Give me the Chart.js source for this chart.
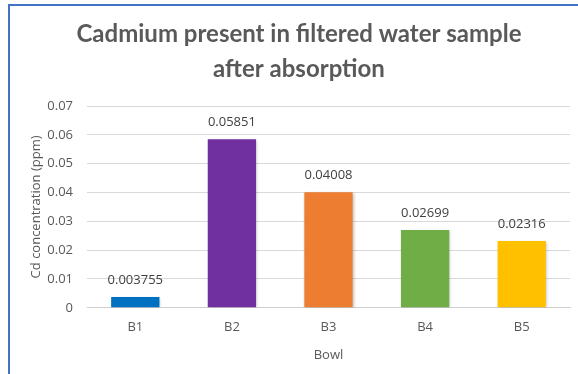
<!DOCTYPE html>
<html>
<head>
<meta charset="utf-8">
<script src="https://cdn.jsdelivr.net/npm/chart.js@4.4.1/dist/chart.umd.min.js"></script>
<style>
  html, body { margin: 0; padding: 0; background: #ffffff; }
  #wrap { position: relative; width: 578px; height: 374px; overflow: hidden; }
  #frame { position: absolute; left: 8px; top: 4px; right: -4px; bottom: -4px;
           border-top: 2px solid #4472C4; border-left: 2px solid #4472C4; pointer-events: none; }
  canvas { position: absolute; left: 0; top: 0; }
</style>
</head>
<body>
<div id="wrap">
  <canvas id="chart" width="578" height="374"></canvas>
  <div id="frame"></div>
</div>
<script>
// Cadmium concentration per bowl after absorption
const bowls = ['B1', 'B2', 'B3', 'B4', 'B5'];
const cadmium = [0.003755, 0.05851, 0.04008, 0.02699, 0.02316];
const barColors = ['#0070C0', '#7030A0', '#ED7D31', '#70AD47', '#FFC000'];
const titleLines = ['Cadmium present in filtered water sample', 'after absorption'];
const yTitle = 'Cd concentration (ppm)';
const xTitle = 'Bowl';

const textFont = '"Open Sans", sans-serif';

const valueLabels = {
  id: 'valueLabels',
  afterDatasetsDraw(chart) {
    const ctx = chart.ctx;
    const meta = chart.getDatasetMeta(0);
    ctx.save();
    ctx.font = '13px ' + textFont;
    ctx.fillStyle = '#404040';
    ctx.textAlign = 'center';
    ctx.textBaseline = 'middle';
    meta.data.forEach((bar, i) => {
      ctx.fillText(String(cadmium[i]), bar.x, bar.y - 17);
    });
    ctx.restore();
  }
};

const barShadow = {
  id: 'barShadow',
  beforeDatasetsDraw(chart) {
    const ctx = chart.ctx;
    ctx.save();
    ctx.shadowColor = 'rgba(0,0,0,0.25)';
    ctx.shadowBlur = 3;
    ctx.shadowOffsetX = 1;
    ctx.shadowOffsetY = 1;
  },
  afterDatasetsDraw(chart) {
    chart.ctx.restore();
  }
};

new Chart(document.getElementById('chart'), {
  type: 'bar',
  data: {
    labels: bowls,
    datasets: [{
      data: cadmium,
      backgroundColor: barColors,
      borderWidth: 0,
      barPercentage: 0.5,
      categoryPercentage: 1.0
    }]
  },
  options: {
    responsive: false,
    animation: false,
    layout: { padding: { left: 28, right: 8, top: 14, bottom: 11 } },
    plugins: {
      legend: { display: false },
      tooltip: { enabled: false },
      title: {
        display: true,
        text: titleLines,
        color: '#595959',
        font: { family: 'Lato, "Open Sans", sans-serif', size: 24, weight: 'bold', lineHeight: 1.46 },
        padding: { top: 2.5, bottom: 19.5 }
      }
    },
    scales: {
      x: {
        grid: { display: false, drawTicks: false },
        border: { color: '#d0d0d0', width: 1 },
        ticks: { color: '#595959', font: { family: textFont, size: 13 }, padding: 12 },
        title: { display: true, text: xTitle, color: '#595959',
                 font: { family: textFont, size: 13 }, padding: { top: 0, bottom: 0 } }
      },
      y: {
        min: 0,
        max: 0.07,
        afterFit(scale) { scale.width = 59; },
        ticks: { stepSize: 0.01, color: '#595959', font: { family: textFont, size: 13 },
                 padding: 14, callback: v => (Math.round(v * 100) / 100).toString() },
        grid: { color: '#d9d9d9', drawTicks: false },
        border: { display: false },
        title: { display: true, text: yTitle, color: '#595959',
                 font: { family: textFont, size: 13 }, padding: { top: 0, bottom: 0 } }
      }
    }
  },
  plugins: [barShadow, valueLabels]
});
</script>
</body>
</html>
